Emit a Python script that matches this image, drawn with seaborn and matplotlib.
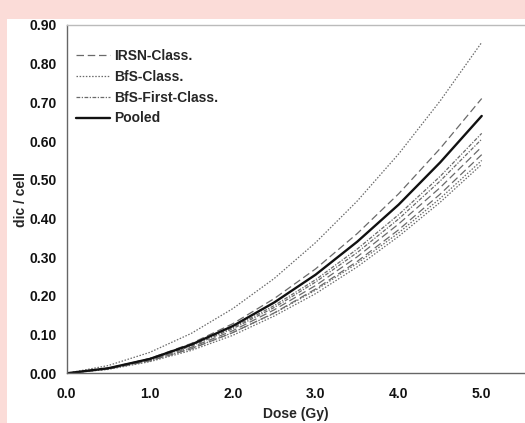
import numpy as np
import pandas as pd
import matplotlib
matplotlib.use("Agg")
import matplotlib.pyplot as plt
import seaborn as sns
from matplotlib.lines import Line2D
from matplotlib.patches import Rectangle

dose = [0.0, 0.5, 1.0, 1.5, 2.0, 2.5, 3.0, 3.5, 4.0, 4.5, 5.0]

irsn_a = [0.0, 0.013, 0.038, 0.077, 0.128, 0.193, 0.270, 0.361, 0.464, 0.581, 0.710]
irsn_b = [0.0, 0.012, 0.035, 0.067, 0.110, 0.164, 0.227, 0.301, 0.386, 0.480, 0.585]
irsn_c = [0.0, 0.011, 0.032, 0.063, 0.105, 0.156, 0.218, 0.289, 0.371, 0.463, 0.565]
bfs_a = [0.0, 0.020, 0.054, 0.103, 0.167, 0.245, 0.338, 0.445, 0.567, 0.704, 0.855]
bfs_b = [0.0, 0.012, 0.033, 0.064, 0.105, 0.155, 0.215, 0.284, 0.363, 0.452, 0.550]
bfs_c = [0.0, 0.010, 0.030, 0.059, 0.098, 0.148, 0.206, 0.275, 0.354, 0.442, 0.540]
first_a = [0.0, 0.013, 0.038, 0.073, 0.118, 0.175, 0.242, 0.321, 0.410, 0.509, 0.620]
first_b = [0.0, 0.013, 0.036, 0.070, 0.115, 0.170, 0.236, 0.312, 0.399, 0.497, 0.605]
pooled = [0.0, 0.013, 0.037, 0.074, 0.122, 0.183, 0.255, 0.340, 0.436, 0.545, 0.665]

legend_labels = ["IRSN-Class.", "BfS-Class.", "BfS-First-Class.", "Pooled"]
x_ticks = [0.0, 1.0, 2.0, 3.0, 4.0, 5.0]
y_ticks = [0.0, 0.1, 0.2, 0.3, 0.4, 0.5, 0.6, 0.7, 0.8, 0.9]

sns.set_style("white")
plt.rcParams["font.family"] = ["Liberation Sans", "DejaVu Sans"]

fig = plt.figure(figsize=(5.25, 4.23), dpi=100)
fig.patch.set_facecolor("#fbdcd8")
fig.patches.append(Rectangle((7 / 525, 0), 1, 1 - 19 / 423, transform=fig.transFigure,
                             facecolor="white", edgecolor="none", zorder=-10))

ax = fig.add_axes([66.7 / 525, 49.7 / 423, 1 - 66.7 / 525, 348.3 / 423])
ax.set_facecolor("white")

gray = "#6a6a6a"
styles = {
    "dash": dict(color=gray, lw=0.9, dashes=(6, 3)),
    "dot": dict(color=gray, lw=0.9, dashes=(1.2, 1.3)),
    "dashdot": dict(color=gray, lw=0.9, dashes=(3, 1.2, 1, 1.2)),
    "solid": dict(color="#111111", lw=1.7),
}
curves = [
    (bfs_a, "dot"), (bfs_b, "dot"), (bfs_c, "dot"),
    (irsn_a, "dash"), (irsn_b, "dash"), (irsn_c, "dash"),
    (first_a, "dashdot"), (first_b, "dashdot"),
    (pooled, "solid"),
]
for vals, st in curves:
    df = pd.DataFrame({"dose": dose, "y": vals})
    kw = dict(styles[st])
    dashes = kw.pop("dashes", None)
    line = sns.lineplot(data=df, x="dose", y="y", ax=ax, color=kw["color"], lw=kw["lw"],
                        legend=False)
    if dashes is not None:
        line.lines[-1].set_dashes(dashes)

ax.set_xlim(0, (525 - 66.7) / 83)
ax.set_ylim(0, 0.9)
ax.set_xticks(x_ticks)
ax.set_yticks(y_ticks)
ax.set_xticklabels([f"{v:.1f}" for v in x_ticks], fontweight="bold", fontsize=10)
ax.set_yticklabels([f"{v:.2f}" for v in y_ticks], fontweight="bold", fontsize=10)
ax.tick_params(axis="both", direction="out", length=3, width=0.8, color="#777777",
               pad=4, labelcolor="#111111")
ax.tick_params(axis="x", pad=7)

for s in ["left", "bottom"]:
    ax.spines[s].set_color("#666666")
    ax.spines[s].set_linewidth(1.0)
ax.spines["top"].set_color("#bbbbbb")
ax.spines["top"].set_linewidth(1.0)
ax.spines["right"].set_visible(False)

ax.set_xlabel("Dose (Gy)", fontweight="bold", fontsize=10, labelpad=4)
ax.set_ylabel("dic / cell", fontweight="bold", fontsize=10, labelpad=1.5)

handles = []
for lab, st in zip(legend_labels, ["dash", "dot", "dashdot", "solid"]):
    kw = dict(styles[st])
    dashes = kw.pop("dashes", None)
    h = Line2D([0], [0], color=kw["color"], lw=kw["lw"])
    if dashes is not None:
        h.set_dashes(dashes)
    handles.append(h)
leg = ax.legend(handles, legend_labels, loc="upper left", bbox_to_anchor=(0.0, 0.96),
                frameon=False, prop=dict(weight="bold", size=10), handlelength=2.4,
                handletextpad=0.3, labelspacing=0.5, borderaxespad=0.3)

fig.savefig("out.png", dpi=100, facecolor=fig.get_facecolor())
